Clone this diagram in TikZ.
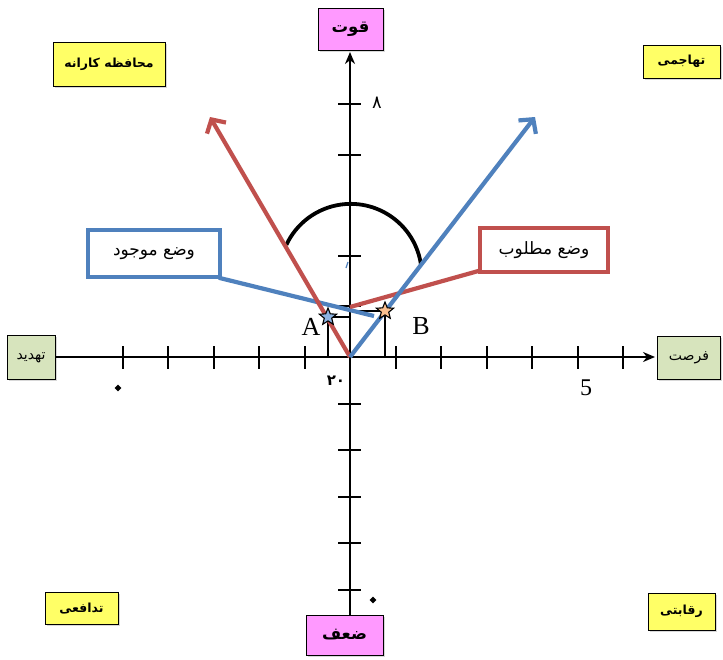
\documentclass[tikz,border=0pt]{standalone}
\usepackage{fontspec}
\setmainfont{Liberation Serif}
\newfontfamily\arabicfont[Script=Arabic]{DejaVu Sans}
\TeXXeTstate=1
\usetikzlibrary{arrows.meta,shapes.geometric,shadows}
\definecolor{pinkbox}{HTML}{FF99FF}
\definecolor{yellowbox}{HTML}{FFFF66}
\definecolor{greenbox}{HTML}{D7E4BD}
\definecolor{myred}{HTML}{C0504D}
\definecolor{myblue}{HTML}{4F81BD}
\definecolor{stara}{HTML}{8DB3E2}
\definecolor{starb}{HTML}{FAC090}
\tikzset{
  lbl/.style={draw=black, line width=1pt, inner sep=0pt, align=center,
    drop shadow={shadow xshift=1.5pt, shadow yshift=-1.5pt, fill=gray!60}},
  pinklbl/.style={lbl, fill=pinkbox, font=\arabicfont\bfseries\fontsize{16.5}{18}\selectfont},
  yellowlbl/.style={lbl, fill=yellowbox, font=\arabicfont\bfseries\fontsize{12.5}{14}\selectfont},
  greenlbl/.style={lbl, fill=greenbox, font=\arabicfont\fontsize{14}{16}\selectfont},
  callout/.style={draw, line width=3.5pt, fill=white, inner sep=0pt,
    font=\arabicfont\fontsize{17}{19}\selectfont},
  axisline/.style={line width=2.6pt, black},
  tickmark/.style={line width=2pt, black},
  vec/.style={line width=4.2pt, -{Straight Barb[length=10pt,width=22pt,line width=4.2pt]}},
  guide/.style={line width=1.6pt, black},
  starmark/.style={star, star points=5, star point ratio=2.3, minimum size=18pt,
    inner sep=0pt, draw=black, line width=1.1pt},
  dot/.style={diamond, fill=black, inner sep=0pt, minimum size=7pt}
}
\begin{document}
\begin{tikzpicture}[x=1pt,y=-1pt]
\useasboundingbox (0,0) rectangle (723,659);
\fill[white] (0,0) rectangle (723,659);

% boxes
\node[pinklbl, minimum width=65pt, minimum height=42pt] (qovvat) at (350.5,29) {\beginR قوت\endR};
\node[pinklbl, minimum width=77pt, minimum height=40pt] (zaaf) at (344.5,635) {\beginR ضعف\endR};
\node[greenlbl, minimum width=48pt, minimum height=44pt] (tahdid) at (31,357.5) {\beginR تهدید\endR};
\node[greenlbl, minimum width=63pt, minimum height=43pt] (forsat) at (689,358) {\beginR فرصت\endR};
\node[yellowlbl, minimum width=112pt, minimum height=44pt] (mohafeze) at (109,64) {\beginR محافظه کارانه\endR};
\node[yellowlbl, minimum width=77pt, minimum height=33pt] (tahajomi) at (681.5,61.5) {\beginR تهاجمی\endR};
\node[yellowlbl, minimum width=73pt, minimum height=32pt] (tadafoi) at (81.5,608.5) {\beginR تدافعی\endR};
\node[yellowlbl, minimum width=67pt, minimum height=37pt] (reqabati) at (681.5,611.5) {\beginR رقابتی\endR};

% axes
\coordinate (O) at (350,357);
\coordinate (xend) at (655,357);
\coordinate (yend) at (350,52);
\draw[axisline] (tahdid.east |- O) -- (O);
\draw[axisline, -{Stealth[length=12pt,width=10pt]}] (O) -- (xend);
\draw[axisline, -{Stealth[length=12pt,width=10pt]}] (zaaf.north -| O) -- (yend);

% ticks on x axis
\foreach \k in {1,...,5} {
  \draw[tickmark] ({350-45.5*\k},346) -- ({350-45.5*\k},369);
}
\foreach \k in {1,...,6} {
  \draw[tickmark] ({350+45.5*\k},346) -- ({350+45.5*\k},369);
}
% ticks on y axis
\foreach \k in {1,...,5} {
  \draw[tickmark] (338,{357-50.6*\k}) -- (361,{357-50.6*\k});
}
\foreach \k in {1,...,5} {
  \draw[tickmark] (338,{357+46.6*\k}) -- (361,{357+46.6*\k});
}

% labels on axes
\node[font=\arabicfont\fontsize{18}{20}\selectfont] (n8) at (377,103) {۸};
\node[font=\arabicfont\bfseries\fontsize{15}{17}\selectfont] (n20) at (336,381) {\beginL ۲۰\endL};
\node[font=\fontsize{24}{26}\selectfont] (n5) at (586,388) {5};
\node[dot] (d1) at (118,388) {};
\node[dot] (d2) at (373,600) {};

% arc
\draw[line width=3.8pt, black] (421,265) arc[start angle=-8, end angle=-155, radius=71];

% guide lines for A and B
\coordinate (Astar) at (328,317);
\coordinate (Bstar) at (385,311);
\draw[guide] (Astar) -- (O |- Astar);
\draw[guide] (Astar) -- (Astar |- O);
\draw[guide] (Bstar) -- (O |- Bstar);
\draw[guide] (Bstar) -- (Bstar |- O);

% callouts
\node[callout, draw=myblue, minimum width=132pt, minimum height=47pt] (mojud) at (154,253.5) {\beginR وضع موجود\endR};
\node[callout, draw=myred, minimum width=128pt, minimum height=44pt] (matlub) at (544,250) {\beginR وضع مطلوب\endR};
\coordinate (mojudend) at (374,316);
\coordinate (matlubend) at (350,307);
\draw[myblue, line width=4.2pt] (mojud.south east) ++(-3,-1) -- (mojudend);
\draw[myred, line width=4.2pt] (matlub.south west) ++(1,-3) -- (matlubend);

% vectors
\coordinate (redtip) at (210,117);
\coordinate (bluetip) at (535,117);
\draw[vec, myred] (O) -- (redtip);
\draw[vec, myblue] (O) -- (bluetip);
\draw[myblue, line width=1.2pt] (346,268) -- (348,262);

% stars
\node[starmark, fill=stara] (A) at (Astar) {};
\node[starmark, fill=starb] (B) at (Bstar) {};
\node[font=\fontsize{26}{28}\selectfont] (Alab) at (311,327) {A};
\node[font=\fontsize{26}{28}\selectfont] (Blab) at (421,326) {B};
\end{tikzpicture}
\end{document}
